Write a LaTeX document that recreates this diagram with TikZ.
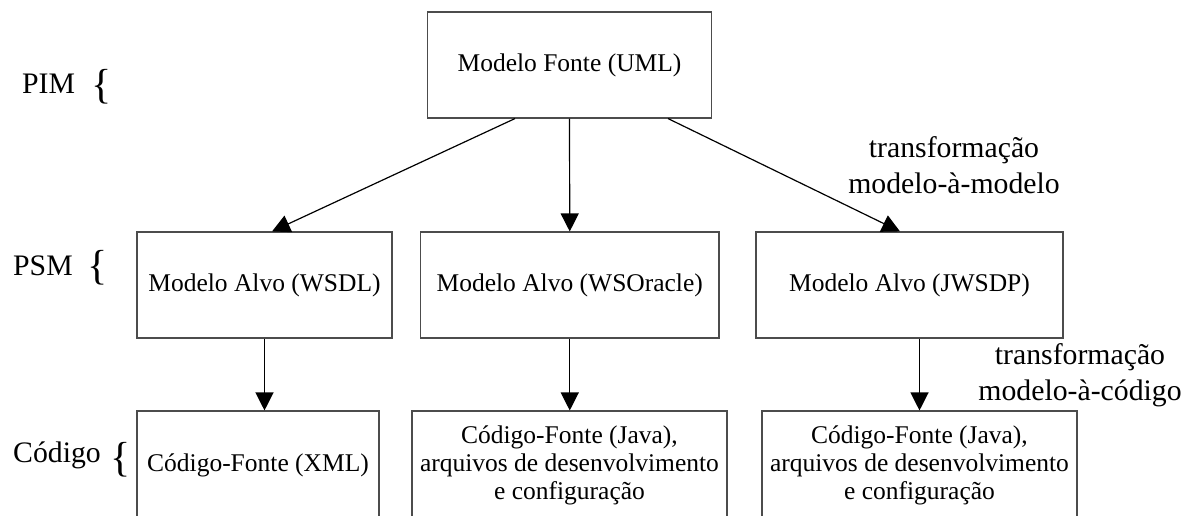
\documentclass[tikz,border=0pt]{standalone}
\usepackage{fontspec}
\setmainfont{Liberation Serif}
\usetikzlibrary{arrows.meta}
\begin{document}
\begin{tikzpicture}[x=1pt,y=-1pt,
  box/.style={draw=black!70,line width=1.1pt,inner sep=0pt,align=center,
    font=\fontsize{25.5}{28}\selectfont},
  conn/.style={line width=1.2pt,-{Triangle[width=18pt,length=18pt]}},
  lbl/.style={inner sep=0pt,align=center,font=\fontsize{29.75}{35.7}\selectfont},
  side/.style={inner sep=0pt,anchor=base west,font=\fontsize{29.75}{35.7}\selectfont},
  brace/.style={inner sep=0pt,font=\fontsize{42}{44}\selectfont}]
\useasboundingbox (0,0) rectangle (1195,515);
% boxes
\node[box,minimum width=284pt,minimum height=106pt] (src) at (569.5,65) {Modelo Fonte (UML)};
\node[box,minimum width=255pt,minimum height=106pt] (p1) at (264.5,285) {Modelo Alvo (WSDL)};
\node[box,minimum width=298.5pt,minimum height=106pt] (p2) at (569.75,285) {Modelo Alvo (WSOracle)};
\node[box,minimum width=307pt,minimum height=106pt] (p3) at (909.5,285) {Modelo Alvo (JWSDP)};
\node[box,minimum width=242pt,minimum height=109pt] (c1) at (258,465.5) {Código-Fonte (XML)};
\node[box,minimum width=315pt,minimum height=109pt] (c2) at (569.5,465.5) {Código-Fonte (Java),\\arquivos de desenvolvimento\\e configuração};
\node[box,minimum width=315pt,minimum height=109pt] (c3) at (919.5,465.5) {Código-Fonte (Java),\\arquivos de desenvolvimento\\e configuração};
% side labels
\node[side] (pim) at (22,93) {PIM};
\node[brace] (bpim) at (102,86.5) {\{};
\node[side] (psm) at (13,275) {PSM};
\node[brace] (bpsm) at (98,267.5) {\{};
\node[side] (cod) at (13,462) {Código};
\node[brace] (bcod) at (121,460) {\{};
% transformation labels
\node[lbl] (t1) at (954,165) {transformação\\modelo-à-modelo};
\node[lbl] (t2) at (1080,375) {transformação\\modelo-à-código};
% connectors
\draw[conn] ([xshift=-54.5pt]src.south) -- ([xshift=7.5pt]p1.north);
\draw[conn] (src.south) -- (p2.north);
\draw[conn] ([xshift=98.5pt]src.south) -- ([xshift=-9.5pt]p3.north);
\draw[conn] (p1.south) -- (p1.south |- c1.north);
\draw[conn] (p2.south) -- (p2.south |- c2.north);
\draw[conn] (c3.north |- p3.south) -- (c3.north);
\end{tikzpicture}
\end{document}
